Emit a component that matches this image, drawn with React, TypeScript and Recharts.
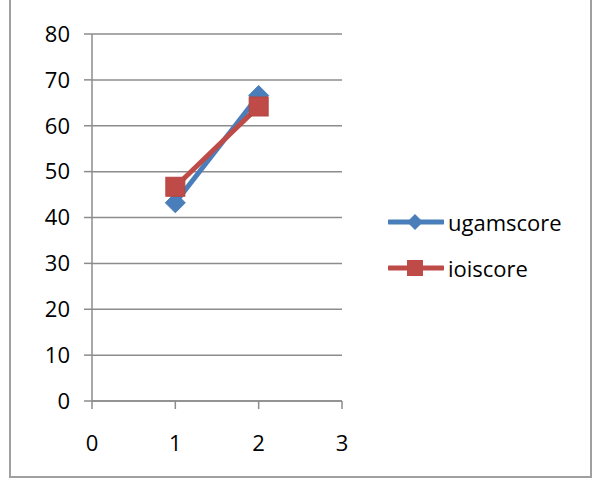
import { LineChart, Line, XAxis, YAxis, CartesianGrid } from 'recharts'

// Excel-style scatter with straight lines, two series

const xValues = [1, 2]
const ugamScores = [43.2, 66.6]
const ioiScores = [46.7, 64.2]
const xTicks = [0, 1, 2, 3]
const yTicks = [0, 10, 20, 30, 40, 50, 60, 70, 80]

const BLUE = '#4A7EBB'
const RED = '#BE4B48'
const GRID = '#8C8C8C'
const FONT = '"Open Sans", sans-serif'

const ugamData = xValues.map((x, i) => ({ x, y: ugamScores[i] }))
const ioiData = xValues.map((x, i) => ({ x, y: ioiScores[i] }))

const Diamond = (props: any) => {
  const { cx, cy } = props
  if (cx == null || cy == null) return null
  const r = 10
  return (
    <path
      d={`M${cx},${cy - r} L${cx + r},${cy} L${cx},${cy + r} L${cx - r},${cy} Z`}
      fill={BLUE}
      stroke={BLUE}
      strokeWidth={1}
    />
  )
}

const Square = (props: any) => {
  const { cx, cy } = props
  if (cx == null || cy == null) return null
  const h = 9.5
  return <rect x={cx - h} y={cy - h} width={h * 2} height={h * 2} fill={RED} stroke="#B34542" strokeWidth={1} />
}

const legendItems = [
  { name: 'ugamscore', color: BLUE, shape: 'diamond' },
  { name: 'ioiscore', color: RED, shape: 'square' },
]

export default function App() {
  return (
    <div style={{ position: 'fixed', left: 0, top: 0, width: 596, height: 487, background: '#fff', overflow: 'hidden' }}>
      <div
        style={{
          position: 'absolute',
          left: 9,
          top: -10,
          width: 583,
          height: 488,
          border: '2px solid #A0A0A0',
          boxSizing: 'border-box',
        }}
      />
      <LineChart
        width={596}
        height={487}
        margin={{ top: 34, right: 254, bottom: 36, left: 0 }}
        style={{ position: 'absolute', left: 0, top: 0 }}
      >
        <CartesianGrid vertical={false} stroke={GRID} strokeWidth={1.5} />
        <XAxis
          type="number"
          dataKey="x"
          domain={[0, 3]}
          ticks={xTicks}
          height={50}
          tickSize={8}
          tickMargin={26}
          stroke={GRID}
          strokeWidth={1.5}
          tick={{ fill: '#000', fontSize: 22, fontFamily: FONT }}
          allowDuplicatedCategory={false}
        />
        <YAxis
          type="number"
          domain={[0, 80]}
          ticks={yTicks}
          width={92}
          tickSize={8}
          tickMargin={14}
          stroke={GRID}
          strokeWidth={1.5}
          tick={{ fill: '#000', fontSize: 22, fontFamily: FONT }}
        />
        <Line
          data={ugamData}
          dataKey="y"
          name="ugamscore"
          stroke={BLUE}
          strokeWidth={5}
          dot={<Diamond />}
          isAnimationActive={false}
        />
        <Line
          data={ioiData}
          dataKey="y"
          name="ioiscore"
          stroke={RED}
          strokeWidth={5}
          dot={<Square />}
          isAnimationActive={false}
        />
      </LineChart>
      <div style={{ position: 'absolute', left: 388, top: 204, fontFamily: FONT, fontSize: 22, color: '#000' }}>
        {legendItems.map((item) => (
          <div key={item.name} style={{ display: 'flex', alignItems: 'center', height: 36, marginBottom: 10 }}>
            <svg width={56} height={24} style={{ marginRight: 4 }}>
              <line x1={1} y1={12} x2={55} y2={12} stroke={item.color} strokeWidth={5} strokeLinecap="round" />
              {item.shape === 'diamond' ? (
                <path d="M27,4 L35,12 L27,20 L19,12 Z" fill={item.color} />
              ) : (
                <rect x={19} y={4} width={16} height={16} fill={item.color} />
              )}
            </svg>
            <span>{item.name}</span>
          </div>
        ))}
      </div>
    </div>
  )
}
